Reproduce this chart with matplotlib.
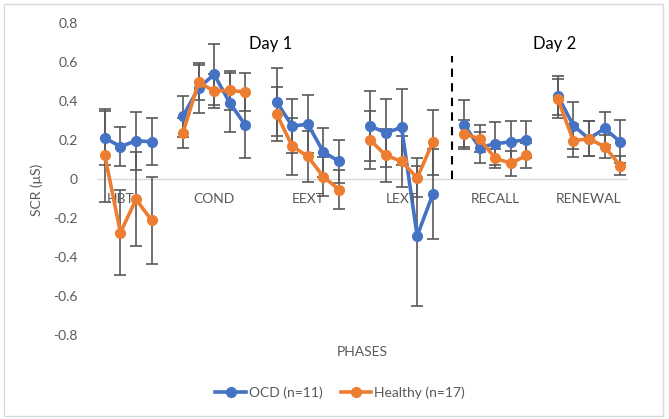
import numpy as np
import matplotlib.pyplot as plt
from matplotlib.patches import Rectangle

plt.rcParams['font.family'] = ['Lato', 'DejaVu Sans']

phases = ['HBT', 'COND', 'EEXT', 'LEXT', 'RECALL', 'RENEWAL']

# OCD group means per phase
ocd_hbt = [0.21, 0.165, 0.195, 0.19]
ocd_cond = [0.32, 0.465, 0.535, 0.39, 0.275]
ocd_eext = [0.395, 0.27, 0.28, 0.137, 0.09]
ocd_lext = [0.27, 0.236, 0.264, -0.292, -0.079]
ocd_recall = [0.278, 0.16, 0.18, 0.19, 0.2]
ocd_renewal = [0.426, 0.273, 0.205, 0.258, 0.19]

ocd_err_hbt = [0.14, 0.10, 0.15, 0.12]
ocd_err_cond = [0.105, 0.13, 0.155, 0.15, 0.17]
ocd_err_eext = [0.175, 0.14, 0.15, 0.125, 0.11]
ocd_err_lext = [0.18, 0.175, 0.195, 0.36, 0.23]
ocd_err_recall = [0.124, 0.08, 0.11, 0.105, 0.095]
ocd_err_renewal = [0.1, 0.12, 0.09, 0.085, 0.11]

# Healthy group means per phase
hc_hbt = [0.12, -0.275, -0.105, -0.213]
hc_cond = [0.235, 0.494, 0.45, 0.453, 0.445]
hc_eext = [0.333, 0.167, 0.115, 0.01, -0.055]
hc_lext = [0.198, 0.12, 0.09, 0.005, 0.188]
hc_recall = [0.232, 0.205, 0.105, 0.08, 0.12]
hc_renewal = [0.41, 0.196, 0.205, 0.165, 0.068]

hc_err_hbt = [0.24, 0.22, 0.24, 0.225]
hc_err_cond = [0.075, 0.09, 0.085, 0.1, 0.095]
hc_err_eext = [0.14, 0.145, 0.13, 0.1, 0.1]
hc_err_lext = [0.15, 0.135, 0.13, 0.1, 0.167]
hc_err_recall = [0.07, 0.07, 0.05, 0.065, 0.063]
hc_err_renewal = [0.1, 0.085, 0.09, 0.06, 0.047]

ocd = [ocd_hbt, ocd_cond, ocd_eext, ocd_lext, ocd_recall, ocd_renewal]
ocd_err = [ocd_err_hbt, ocd_err_cond, ocd_err_eext, ocd_err_lext, ocd_err_recall, ocd_err_renewal]
hc = [hc_hbt, hc_cond, hc_eext, hc_lext, hc_recall, hc_renewal]
hc_err = [hc_err_hbt, hc_err_cond, hc_err_eext, hc_err_lext, hc_err_recall, hc_err_renewal]

# lay the groups out on one category axis, one empty slot between phases
starts = [0, 5, 11, 17, 23, 29]
label_pos = [1, 7, 13, 19, 25, 31]

blue = '#4472C4'
orange = '#ED7D31'
grey = '#595959'

fig = plt.figure(figsize=(6.69, 4.19), dpi=100)
ax = fig.add_axes([97 / 669, 1 - 335 / 419, (628 - 97) / 669, (335 - 22.7) / 419])

for k in range(len(phases)):
    x = np.arange(starts[k], starts[k] + len(ocd[k]))
    ax.errorbar(x, ocd[k], yerr=ocd_err[k], fmt='none', ecolor=grey, elinewidth=1.2,
                capsize=4, capthick=1.2, zorder=2)
    ax.errorbar(x, hc[k], yerr=hc_err[k], fmt='none', ecolor=grey, elinewidth=1.2,
                capsize=4, capthick=1.2, zorder=2)
    ax.plot(x, ocd[k], color=blue, lw=2.6, marker='o', ms=7, zorder=3,
            label='OCD (n=11)' if k == 0 else None)
    ax.plot(x, hc[k], color=orange, lw=2.6, marker='o', ms=7, zorder=4,
            label='Healthy (n=17)' if k == 0 else None)
    ax.annotate(phases[k], (label_pos[k], 0), xytext=(0, -14.5), textcoords='offset points',
                ha='center', va='center', fontsize=10, color=grey)

ax.axhline(0, color='#D9D9D9', lw=1, zorder=1)
ax.plot([22.2, 22.2], [0, 0.63], color='black', lw=1.5, ls=(0, (4, 3)), zorder=1)

ax.text(10.6, 0.69, 'Day 1', ha='center', va='center', fontsize=12, color='black')
ax.text(28.8, 0.69, 'Day 2', ha='center', va='center', fontsize=12, color='black')

ax.set_xlim(-0.5, 33.5)
ax.set_ylim(-0.8, 0.8)
ax.set_yticks(np.arange(-0.8, 0.81, 0.2))
ax.set_yticklabels(['-0.8', '-0.6', '-0.4', '-0.2', '0', '0.2', '0.4', '0.6', '0.8'])
ax.set_xticks([])
ax.tick_params(axis='y', length=0, labelsize=10, labelcolor=grey, pad=14)
for s in ax.spines.values():
    s.set_visible(False)

ax.set_ylabel('SCR (\u03bcS)', fontsize=10, color=grey)
ax.yaxis.set_label_coords(-0.102, 0.464)
fig.text(362 / 669, 1 - 352 / 419, 'PHASES', ha='center', va='center', fontsize=10, color=grey)

fig.legend(loc='center', bbox_to_anchor=(340 / 669, 1 - 393 / 419), ncol=2, frameon=False,
           fontsize=10, handlelength=2.2, handletextpad=0.2, columnspacing=1.3,
           labelcolor=grey)

fig.patches.append(Rectangle((4 / 669, 3 / 419), 659 / 669, 412 / 419, transform=fig.transFigure,
                             fill=False, edgecolor='#D9D9D9', lw=1))

fig.savefig('out.png', dpi=100)
